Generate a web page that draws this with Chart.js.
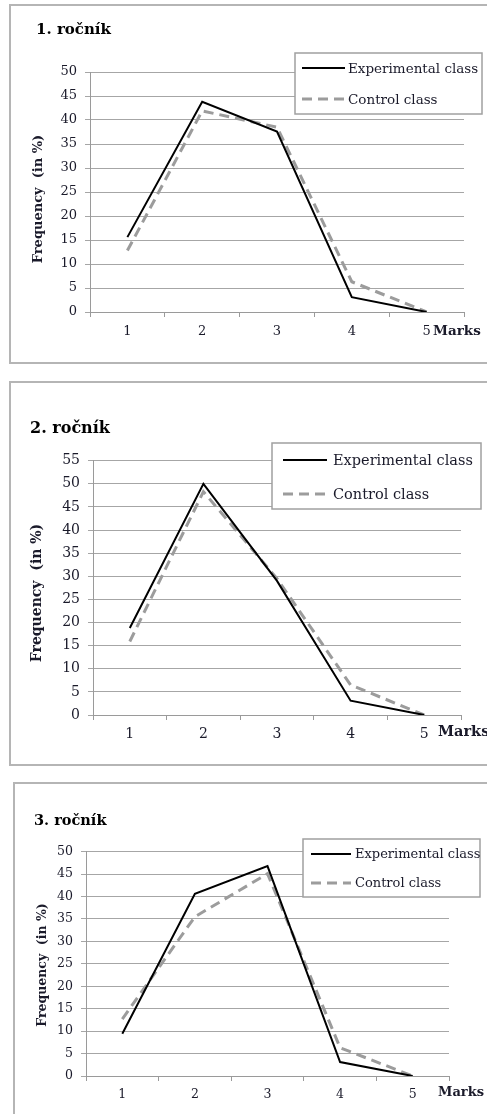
<!DOCTYPE html>
<html>
<head>
<meta charset="utf-8">
<script src="https://cdn.jsdelivr.net/npm/chart.js@4"></script>
<style>
  body { margin: 0; background: #fff; }
  #page { position: relative; width: 487px; height: 1114px; overflow: hidden; }
  .box { position: absolute; border: 2px solid #b5b5b5; box-sizing: border-box; width: 500px; }
  canvas { position: absolute; left: 0; }
</style>
</head>
<body>
<div id="page">
  <div class="box" style="left:9px; top:4px; height:360px;"></div>
  <div class="box" style="left:9px; top:381px; height:385px;"></div>
  <div class="box" style="left:13px; top:782px; height:400px;"></div>
  <canvas id="c1" width="487" height="368" style="top:0px"></canvas>
  <canvas id="c2" width="487" height="385" style="top:380px"></canvas>
  <canvas id="c3" width="487" height="334" style="top:780px"></canvas>
</div>
<script>
// marks on the x axis
const marks = ["1", "2", "3", "4", "5"];
const years = ["1. ročník", "2. ročník", "3. ročník"];
const seriesNames = ["Experimental class", "Control class"];

// frequencies in %
const exp1 = [15.6, 43.8, 37.6, 3.1, 0];
const ctrl1 = [12.8, 41.9, 38.5, 6.3, 0];
const exp2 = [18.8, 50.0, 29.0, 3.1, 0];
const ctrl2 = [15.9, 48.3, 29.5, 6.5, 0];
const exp3 = [9.4, 40.6, 46.8, 3.1, 0];
const ctrl3 = [12.7, 35.5, 45.1, 6.3, 0];

const yMaxes = [50, 55, 50];

const textColor = "#1a1a2a";
const serif = "'DejaVu Serif', 'Liberation Serif', serif";

// draws title, axis captions and the boxed legend
const decor = {
  id: "decor",
  afterDraw(chart, args, o) {
    const ctx = chart.ctx;
    const f = o.fs;
    ctx.save();
    ctx.fillStyle = "#000";
    ctx.textBaseline = "middle";
    ctx.textAlign = "left";
    ctx.font = "bold " + (f + 2) + "px " + serif;
    ctx.fillText(o.title, o.titleX, o.titleY);

    ctx.fillStyle = textColor;
    ctx.font = "bold " + (f + 0.5) + "px " + serif;
    ctx.fillText("Marks", o.marksX, o.marksY);

    ctx.save();
    ctx.translate(o.yTitleX, o.yTitleY);
    ctx.rotate(-Math.PI / 2);
    ctx.textAlign = "center";
    ctx.font = "bold " + f + "px " + serif;
    ctx.fillText("Frequency  (in %)", 0, 0);
    ctx.restore();

    const lg = o.legend;
    ctx.fillStyle = "#fff";
    ctx.fillRect(lg.x, lg.y, lg.w, lg.h);
    ctx.strokeStyle = "#a0a0a0";
    ctx.lineWidth = 1.5;
    ctx.strokeRect(lg.x, lg.y, lg.w, lg.h);
    ctx.font = (f + 0.5) + "px " + serif;
    chart.data.datasets.forEach((ds, i) => {
      const y = lg.rows[i];
      ctx.beginPath();
      ctx.strokeStyle = ds.borderColor;
      ctx.lineWidth = ds.borderWidth;
      ctx.setLineDash(ds.borderDash || []);
      ctx.moveTo(lg.s1, y);
      ctx.lineTo(lg.s2, y);
      ctx.stroke();
      ctx.setLineDash([]);
      ctx.fillStyle = textColor;
      ctx.fillText(ds.label, lg.tx, y + 1);
    });
    ctx.restore();
  }
};

function makePanel(id, title, expVals, ctrlVals, yMax, g) {
  const tickFont = { family: serif, size: g.decor.fs };
  new Chart(document.getElementById(id), {
    type: "line",
    data: {
      labels: marks,
      datasets: [
        {
          label: seriesNames[0],
          data: expVals,
          borderColor: "#000",
          borderWidth: 2,
          pointRadius: 0,
          tension: 0
        },
        {
          label: seriesNames[1],
          data: ctrlVals,
          borderColor: "#9c9c9c",
          borderWidth: 3,
          borderDash: [10, 6],
          pointRadius: 0,
          tension: 0
        }
      ]
    },
    options: {
      responsive: false,
      animation: false,
      layout: {
        padding: { left: g.left - 50, top: g.top, right: 487 - g.right, bottom: 0 }
      },
      scales: {
        x: {
          offset: true,
          grid: { offset: true, drawOnChartArea: false, tickLength: 5, color: "#9a9a9a" },
          border: { color: "#9a9a9a" },
          ticks: { color: textColor, padding: g.xpad, maxRotation: 0, font: tickFont },
          afterFit: s => { s.height = g.h - g.bottom; }
        },
        y: {
          min: 0,
          max: yMax,
          grid: { tickLength: 5, color: "#a6a6a6" },
          border: { color: "#9a9a9a" },
          ticks: { stepSize: 5, color: textColor, padding: 8, font: tickFont },
          afterFit: s => { s.width = 50; }
        }
      },
      plugins: {
        legend: { display: false },
        tooltip: { enabled: false },
        decor: Object.assign({ title: title }, g.decor)
      }
    },
    plugins: [decor]
  });
}

makePanel("c1", years[0], exp1, ctrl1, yMaxes[0], {
  left: 90, top: 72, right: 464, bottom: 312, h: 368, xpad: 7,
  decor: {
    fs: 13, titleX: 36, titleY: 30, marksX: 433, marksY: 331, yTitleX: 39, yTitleY: 199,
    legend: { x: 295, y: 53, w: 187, h: 61, rows: [68, 99], s1: 302, s2: 345, tx: 348 }
  }
});
makePanel("c2", years[1], exp2, ctrl2, yMaxes[1], {
  left: 93, top: 80.7, right: 461, bottom: 335, h: 385, xpad: 6,
  decor: {
    fs: 14, titleX: 30, titleY: 49, marksX: 438, marksY: 352, yTitleX: 37, yTitleY: 213,
    legend: { x: 272, y: 63, w: 209, h: 66, rows: [80, 114], s1: 283, s2: 327, tx: 333 }
  }
});
makePanel("c3", years[2], exp3, ctrl3, yMaxes[2], {
  left: 86, top: 71.7, right: 449, bottom: 296, h: 334, xpad: 6,
  decor: {
    fs: 12.5, titleX: 34, titleY: 41, marksX: 438, marksY: 313, yTitleX: 43, yTitleY: 185,
    legend: { x: 303, y: 59, w: 177, h: 58, rows: [74, 103], s1: 311, s2: 351, tx: 355 }
  }
});
</script>
</body>
</html>
